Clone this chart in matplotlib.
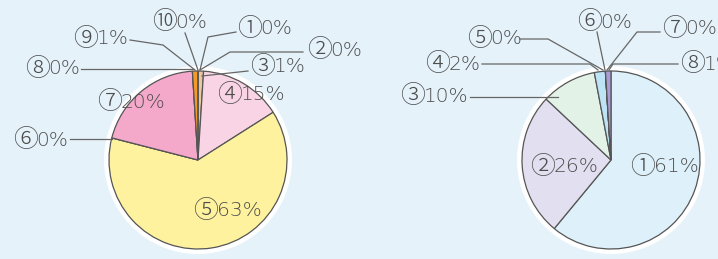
import matplotlib.pyplot as plt
from matplotlib.patches import Circle

# left pie (clockwise from 12 o'clock)
left_labels = ['①', '②', '③', '④', '⑤', '⑥', '⑦', '⑧', '⑨', '⑩']
left_values = [0, 0, 1, 15, 63, 0, 20, 0, 1, 0]
left_colors = ['#f0d9b5', '#f0d9b5', '#e9c8a0', '#f9d4e4', '#fff29f',
               '#f4a9cb', '#f4a9cb', '#f39a2b', '#f39a2b', '#f39a2b']

# right pie
right_labels = ['①', '②', '③', '④', '⑤', '⑥', '⑦', '⑧']
right_values = [61, 26, 10, 2, 0, 0, 0, 1]
right_colors = ['#def1fa', '#e2dff0', '#e3f2e7', '#bde3f5',
                '#bde3f5', '#bde3f5', '#bde3f5', '#a99cd4']

W, H = 718, 259

fig = plt.figure(figsize=(W / 100, H / 100), dpi=100)
fig.patch.set_facecolor('#e5f2fa')
ax = fig.add_axes([0, 0, 1, 1])


def p(x, y):
    # pixel coords (top-left origin) -> data coords
    return x, H - y


txt_col = '#4d4d4d'
line_col = '#666666'

# (label index, text left x / centre y, leader polyline from text to pie)
left_layout = [
    (9, (152, 22), [(185, 33), (198, 70)]),
    (0, (237, 29), [(236, 32), (208, 37), (200, 70)]),
    (1, (307, 50), [(303, 52), (230, 52), (200, 70)]),
    (2, (250, 67), [(248, 71), (202, 76)]),
    (3, (217, 95), None),
    (4, (193, 211), None),
    (5, (13, 140), [(70, 139), (112, 139)]),
    (6, (97, 102), None),
    (7, (25, 69), [(81, 69), (193, 69)]),
    (8, (73, 39), [(130, 40), (163, 45), (195, 70)]),
]
right_layout = [
    (5, (577, 22), [(597, 32), (605, 70)]),
    (6, (662, 29), [(660, 32), (637, 32), (607, 70)]),
    (4, (467, 39), [(520, 39), (548, 39), (603, 70)]),
    (3, (425, 64), [(482, 64), (590, 64), (598, 70)]),
    (2, (400, 96), [(470, 97), (558, 97)]),
    (7, (680, 64), [(678, 64), (613, 64), (609, 70)]),
    (1, (530, 167), None),
    (0, (630, 167), None),
]


def label(pos, mark, value):
    c = ax.text(*p(*pos), mark, ha='left', va='center', fontsize=18,
                family=['Noto Sans CJK JP', 'DejaVu Sans'], fontweight='light',
                color=txt_col, zorder=5)
    ax.annotate(f'{value}%', xy=(1, 0.5), xycoords=c, xytext=(-1, 0),
                textcoords='offset points', ha='left', va='center',
                fontsize=14.5, family='DejaVu Sans', fontweight='light',
                color=txt_col, zorder=5)


def draw(center, labels, values, colors, layout):
    cx, cy = p(*center)
    ax.add_patch(Circle((cx, cy), 94, facecolor='white', edgecolor='none', zorder=1))
    ax.pie(values, colors=colors, startangle=90, counterclock=False,
           center=(cx, cy), radius=89, frame=True,
           wedgeprops=dict(edgecolor='#555555', linewidth=0.9, zorder=2))
    for idx, pos, line in layout:
        label(pos, labels[idx], values[idx])
        if line:
            xs = [p(*q)[0] for q in line]
            ys = [p(*q)[1] for q in line]
            ax.plot(xs, ys, color=line_col, lw=0.9, zorder=4)


draw((198, 160), left_labels, left_values, left_colors, left_layout)
draw((611, 160), right_labels, right_values, right_colors, right_layout)

ax.set_xlim(0, W)
ax.set_ylim(0, H)
ax.set_aspect('equal')
ax.axis('off')
fig.savefig('out.png', dpi=100, facecolor=fig.get_facecolor())
